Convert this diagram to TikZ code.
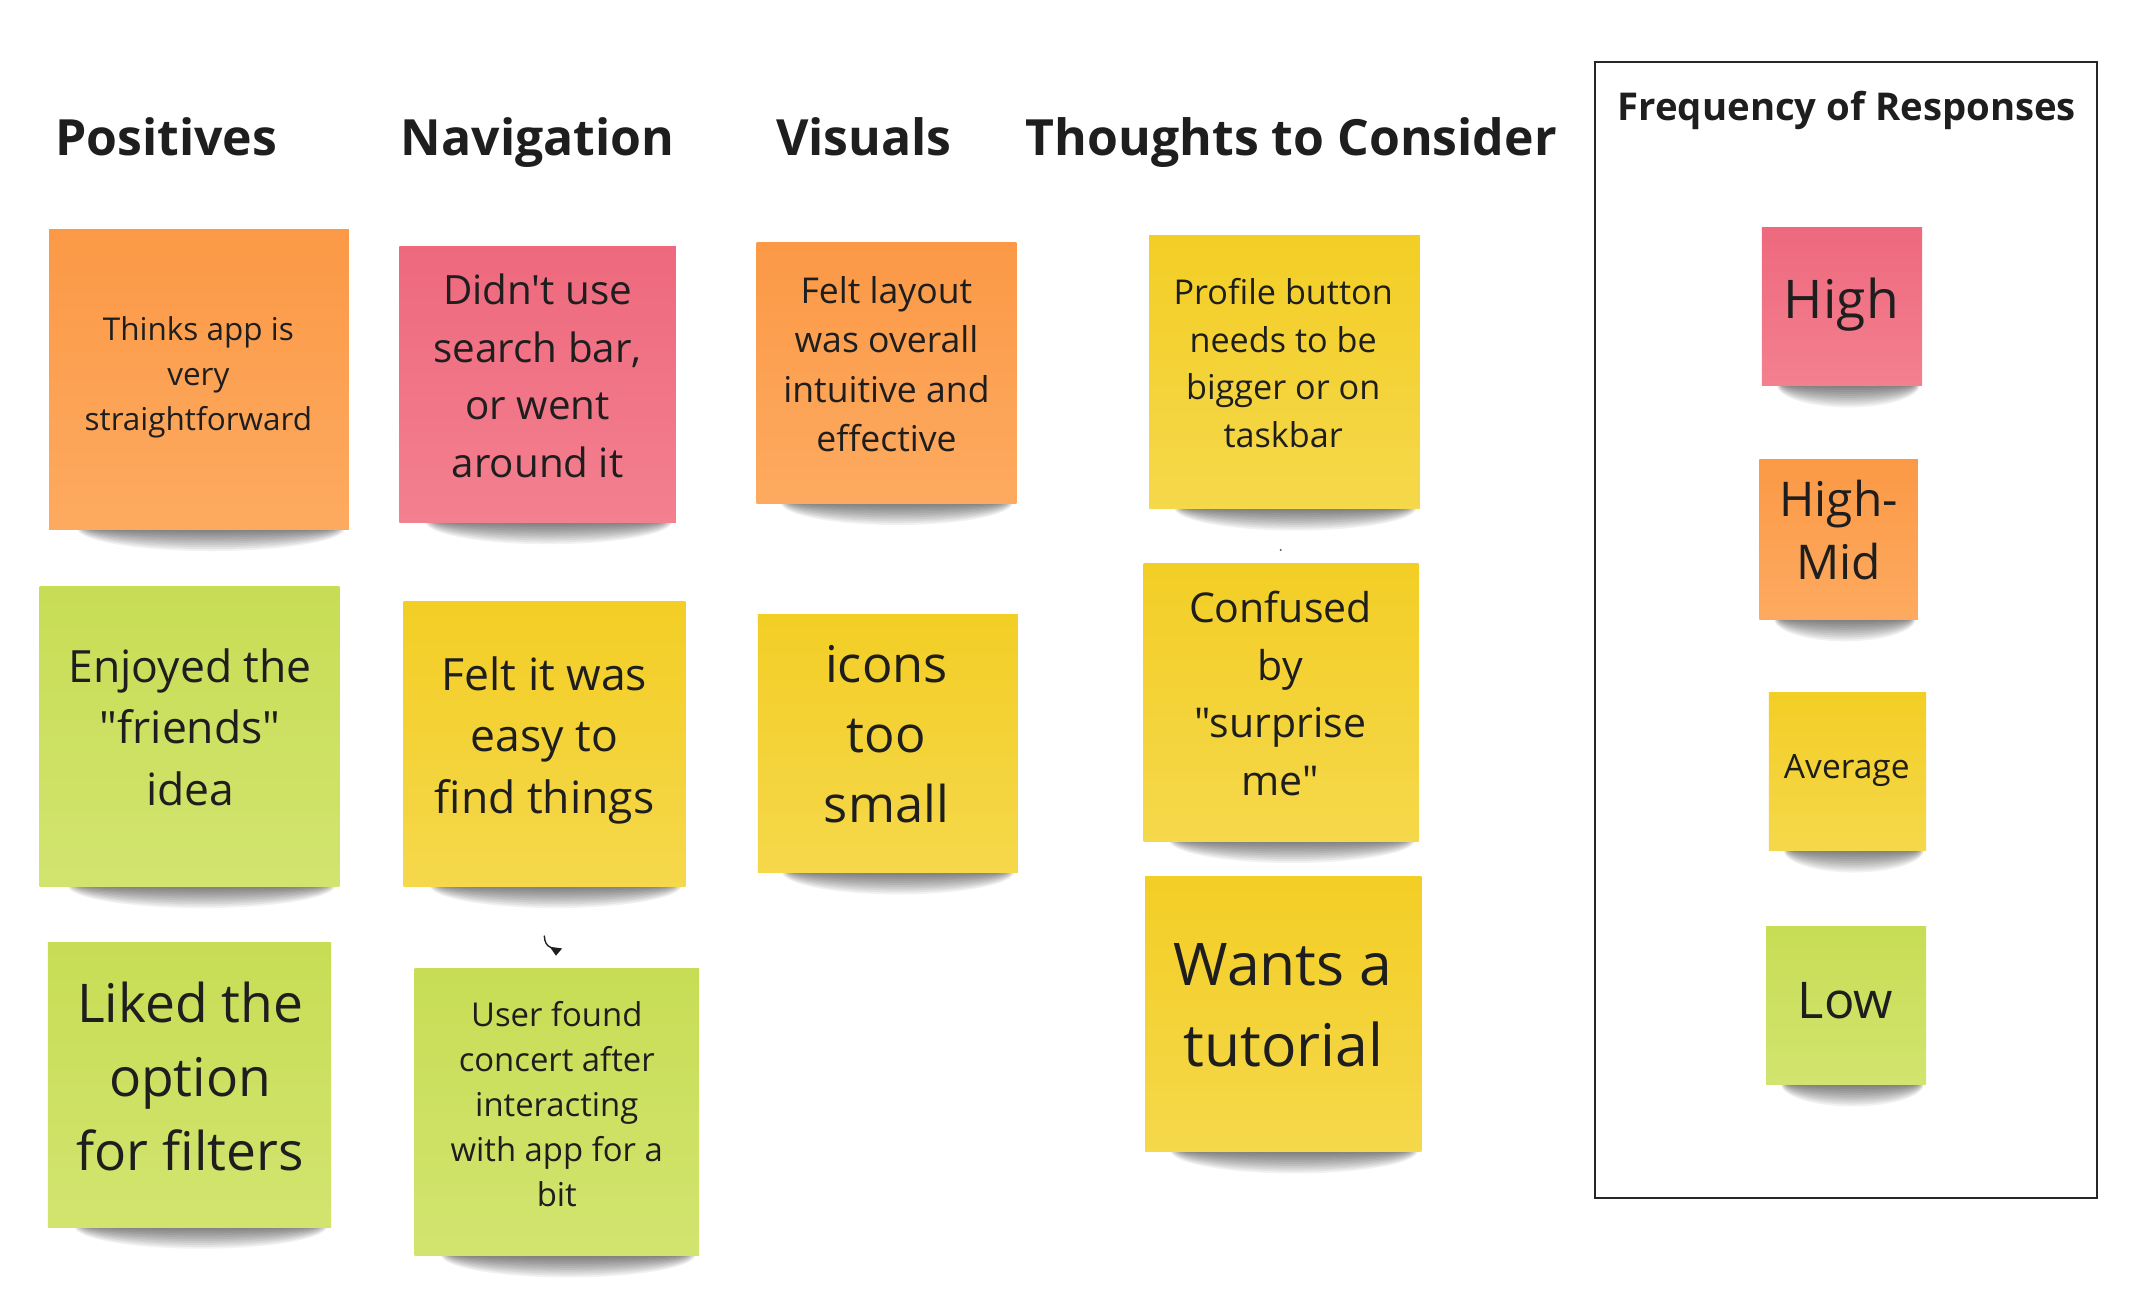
\documentclass[tikz,border=0pt]{standalone}
\usepackage{fontspec}
\setmainfont{Open Sans}[Ligatures=TeXOff]

\definecolor{ink}{HTML}{1E1E1E}
\definecolor{frame}{HTML}{262626}
\definecolor{orangeT}{HTML}{FB9946}
\definecolor{orangeB}{HTML}{FDAA60}
\definecolor{pinkT}{HTML}{EE697D}
\definecolor{pinkB}{HTML}{F3808F}
\definecolor{yellowT}{HTML}{F3CE25}
\definecolor{yellowB}{HTML}{F5D84B}
\definecolor{greenT}{HTML}{C8DD55}
\definecolor{greenB}{HTML}{D2E46F}

% one sticky note: a soft shadow built from stacked translucent half-ellipses
% below the lower edge, then the paper on top
% #1 name, #2 centre x, #3 centre y, #4 width, #5 height, #6 colour style
\newcommand\stickynote[6]{%
  \foreach \k in {1,...,12}{%
    \fill[noteshadow] (#2+0.04*#4, #3+0.5*#5-1) ellipse ({(0.40+0.004*\k)*#4} and {1.4*\k});
  }
  \node[note, #6, minimum width=#4pt, minimum height=#5pt] (#1) at (#2,#3) {};
}

\begin{document}
\begin{tikzpicture}[x=1pt, y=-1pt,
  note/.style={inner sep=0pt, outer sep=0pt, draw=none},
  orangenote/.style={top color=orangeT, bottom color=orangeB},
  pinknote/.style={top color=pinkT, bottom color=pinkB},
  yellownote/.style={top color=yellowT, bottom color=yellowB},
  greennote/.style={top color=greenT, bottom color=greenB},
  noteshadow/.style={black, fill opacity=0.055},
  notetext/.style={align=center, inner sep=0pt, text=ink,
      execute at begin node=\strut, execute at end node=\strut},
  heading/.style={font=\bfseries\fontsize{36.5}{44}\selectfont, text=ink,
      anchor=base, inner sep=0pt},
  fs/.style 2 args={font=\fontsize{#1}{#2}\selectfont},
]
\useasboundingbox (0,0) rectangle (1568,959);
\fill[white] (0,0) rectangle (1568,959);

% column headings
\node[heading] (hpos) at (121.5,113.8) {Positives};
\node[heading] (hnav) at (393,113.8) {Navigation};
\node[heading] (hvis) at (631.5,113.8) {Visuals};
\node[heading] (htho) at (944,113.8) {Thoughts to Consider};

% legend frame
\node[draw=frame, line width=1.4pt, inner sep=0pt,
      minimum width=367pt, minimum height=831pt] (legend) at (1349.5,460.5) {};
\node[heading, font=\bfseries\fontsize{28}{34}\selectfont] (hfreq) at (1350,88) {Frequency of Responses};

% Positives
\stickynote{thinks}{145.5}{277.5}{219}{219}{orangenote}
\node[notetext, fs={23}{33}] (tthinks) at (145,278) {Thinks app is\\very\\straightforward};
\stickynote{enjoyed}{138.5}{538.5}{219}{219}{greennote}
\node[notetext, fs={32.5}{45}] (tenjoyed) at (139,538) {Enjoyed the\\"friends"\\idea};
\stickynote{liked}{138.5}{793}{207}{208}{greennote}
\node[notetext, fs={39}{54}] (tliked) at (139,795) {Liked the\\option\\for filters};

% Navigation
\stickynote{search}{393}{281}{202}{202}{pinknote}
\node[notetext, fs={29.5}{42}] (tsearch) at (393,281) {Didn't use\\search bar,\\or went\\around it};
\stickynote{easy}{398}{544}{206}{208}{yellownote}
\node[notetext, fs={32.5}{45}] (teasy) at (398,544) {Felt it was\\easy to\\find things};
\stickynote{concert}{407}{813}{208}{210}{greennote}
\node[notetext, fs={24}{33}] (tconcert) at (407,812) {User found\\concert after\\interacting\\with app for a\\bit};

% Visuals
\stickynote{layout}{648}{272.5}{190}{191}{orangenote}
\node[notetext, fs={26}{36}] (tlayout) at (648,271.5) {Felt layout\\was overall\\intuitive and\\effective};
\stickynote{icons}{649}{543.5}{190}{189}{yellownote}
\node[notetext, fs={37}{51}] (ticons) at (648,544) {icons\\too\\small};

% Thoughts to Consider
\stickynote{profile}{939}{272}{198}{200}{yellownote}
\node[notetext, fs={25}{35}] (tprofile) at (938,270.5) {Profile button\\needs to be\\bigger or on\\taskbar};
\stickynote{confused}{936.5}{513.5}{201}{203}{yellownote}
\node[notetext, fs={30}{42}] (tconfused) at (936,513) {Confused\\by\\"surprise\\me"};
\stickynote{tutorial}{938}{741.5}{202}{201}{yellownote}
\node[notetext, fs={43}{59}] (ttutorial) at (938,743.5) {Wants a\\tutorial};

% legend notes
\stickynote{high}{1346.5}{224}{117}{116}{pinknote}
\node[notetext, fs={39}{54}] (thigh) at (1346,222) {High};
\stickynote{highmid}{1344}{394.5}{116}{117}{orangenote}
\node[notetext, fs={35}{46}] (thighmid) at (1344,394) {High-\\Mid};
\stickynote{average}{1350.5}{564}{115}{116}{yellownote}
\node[notetext, fs={24.5}{34}] (taverage) at (1350,562) {Average};
\stickynote{low}{1349.5}{735}{117}{116}{greennote}
\node[notetext, fs={37}{51}] (tlow) at (1349,734) {Low};

% stray pointer mark and speck on the board
\draw[ink, line width=1pt, line cap=round] (397.9,684.2) .. controls (398.2,688.5) and (399.2,691) .. (402.6,692.6);
\fill[ink] (401.9,692.1) -- (410.9,693.3) -- (406.4,698.6) -- cycle;
\fill[ink!70] (936.2,402) circle (0.8);
\end{tikzpicture}
\end{document}
